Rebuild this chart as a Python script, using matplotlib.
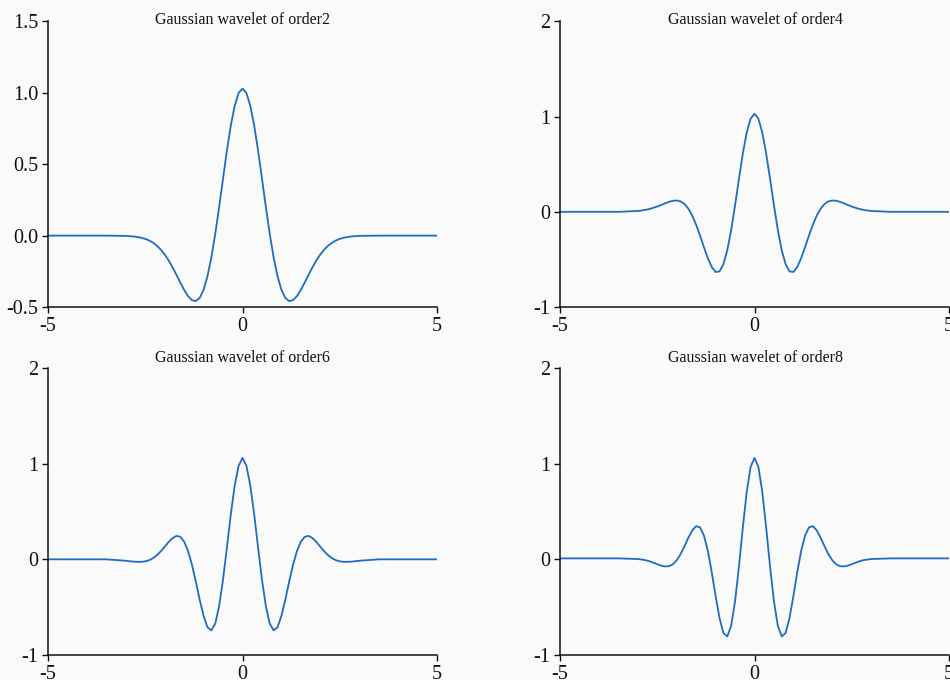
import matplotlib
matplotlib.use("Agg")
import matplotlib.pyplot as plt
from matplotlib.ticker import FixedLocator, FixedFormatter

plt.rcParams['font.family'] = ['Liberation Serif', 'DejaVu Serif']
plt.rcParams['axes.unicode_minus'] = False

# sample positions (x) shared by all four curves
x_vals = [-5, -3.5, -3.0, -2.9, -2.8, -2.7, -2.6, -2.5, -2.4, -2.3, -2.2, -2.1, -2.0,
          -1.9, -1.8, -1.7, -1.6, -1.5, -1.4, -1.3, -1.2, -1.1, -1.0, -0.9, -0.8,
          -0.7, -0.6, -0.5, -0.4, -0.3, -0.2, -0.1, 0.0, 0.1, 0.2, 0.3, 0.4, 0.5,
          0.6, 0.7, 0.8, 0.9, 1.0, 1.1, 1.2, 1.3, 1.4, 1.5, 1.6, 1.7, 1.8, 1.9,
          2.0, 2.1, 2.2, 2.3, 2.4, 2.5, 2.6, 2.7, 2.8, 2.9, 3.0, 3.5, 5]

order2 = [0, 0, -0.002, -0.004, -0.006, -0.010, -0.015, -0.023, -0.034, -0.050, -0.071,
          -0.098, -0.132, -0.173, -0.221, -0.274, -0.328, -0.380, -0.424, -0.452, -0.459,
          -0.436, -0.379, -0.284, -0.152, 0.013, 0.201, 0.401, 0.597, 0.772, 0.910, 0.999,
          1.030, 0.999, 0.910, 0.772, 0.597, 0.401, 0.201, 0.013, -0.152, -0.284, -0.379,
          -0.436, -0.459, -0.452, -0.424, -0.380, -0.328, -0.274, -0.221, -0.173, -0.132,
          -0.098, -0.071, -0.050, -0.034, -0.023, -0.015, -0.010, -0.006, -0.004, -0.002, 0, 0]

order4 = [0, 0, 0.009, 0.014, 0.021, 0.030, 0.042, 0.056, 0.072, 0.089, 0.105, 0.116,
          0.119, 0.110, 0.082, 0.033, -0.040, -0.136, -0.249, -0.371, -0.487, -0.580,
          -0.632, -0.626, -0.551, -0.404, -0.192, 0.067, 0.346, 0.613, 0.833, 0.979,
          1.030, 0.979, 0.833, 0.613, 0.346, 0.067, -0.192, -0.404, -0.551, -0.626,
          -0.632, -0.580, -0.487, -0.371, -0.249, -0.136, -0.040, 0.033, 0.082, 0.110,
          0.119, 0.116, 0.105, 0.089, 0.072, 0.056, 0.042, 0.030, 0.021, 0.014, 0.009, 0, 0]

order6 = [0, 0, -0.015, -0.020, -0.024, -0.026, -0.026, -0.021, -0.009, 0.012, 0.043,
          0.084, 0.132, 0.181, 0.222, 0.245, 0.236, 0.185, 0.087, -0.056, -0.233, -0.422,
          -0.592, -0.710, -0.743, -0.671, -0.488, -0.211, 0.125, 0.472, 0.773, 0.978,
          1.060, 0.978, 0.773, 0.472, 0.125, -0.211, -0.488, -0.671, -0.743, -0.710,
          -0.592, -0.422, -0.233, -0.056, 0.087, 0.185, 0.236, 0.245, 0.222, 0.181,
          0.132, 0.084, 0.043, 0.012, -0.009, -0.021, -0.026, -0.026, -0.024, -0.020, -0.015, 0, 0]

order8 = [0.01, 0.01, 0.003, -0.002, -0.009, -0.020, -0.035, -0.051, -0.066, -0.074, -0.072,
          -0.052, -0.010, 0.054, 0.137, 0.226, 0.303, 0.347, 0.334, 0.249, 0.089, -0.132,
          -0.383, -0.613, -0.770, -0.806, -0.695, -0.440, -0.076, 0.333, 0.705, 0.966,
          1.060, 0.966, 0.705, 0.333, -0.076, -0.440, -0.695, -0.806, -0.770, -0.613,
          -0.383, -0.132, 0.089, 0.249, 0.334, 0.347, 0.303, 0.226, 0.137, 0.054,
          -0.010, -0.052, -0.072, -0.074, -0.066, -0.051, -0.035, -0.020, -0.009, -0.002, 0.003, 0.01, 0.01]

titles = ["Gaussian wavelet of order2", "Gaussian wavelet of order4",
          "Gaussian wavelet of order6", "Gaussian wavelet of order8"]
x_ticks = [-5, 0, 5]
x_ticklabels = ["-5", "0", "5"]
y_ticks_first = [-0.5, 0.0, 0.5, 1.0, 1.5]
y_ticklabels_first = ["-0.5", "0.0", "0.5", "1.0", "1.5"]
y_ticks_other = [-1, 0, 1, 2]
y_ticklabels_other = ["-1", "0", "1", "2"]

W, H = 950, 680
fig = plt.figure(figsize=(W / 100, H / 100), dpi=100, facecolor='#fafafa')

# axes boxes in pixels: (left, top, right, bottom)
boxes = [(48, 21.5, 437, 307), (560, 21.5, 949, 307),
         (48, 368, 437, 655), (560, 368, 949, 655)]
title_pos = [(242.5, 24), (755, 24), (242.5, 362.5), (755, 362.5)]
series = [order2, order4, order6, order8]
line_color = '#1f6cc0'

for i, (box, ys) in enumerate(zip(boxes, series)):
    l, t, r, b = box
    ax = fig.add_axes([l / W, 1 - b / H, (r - l) / W, (b - t) / H])
    ax.set_facecolor('#fafafa')
    ax.plot(x_vals, ys, color=line_color, lw=1.3)
    ax.set_xlim(-5, 5)
    if i == 0:
        ax.set_ylim(-0.5, 1.5)
        ax.yaxis.set_major_locator(FixedLocator(y_ticks_first))
        ax.yaxis.set_major_formatter(FixedFormatter(y_ticklabels_first))
    else:
        ax.set_ylim(-1, 2)
        ax.yaxis.set_major_locator(FixedLocator(y_ticks_other))
        ax.yaxis.set_major_formatter(FixedFormatter(y_ticklabels_other))
    ax.xaxis.set_major_locator(FixedLocator(x_ticks))
    ax.xaxis.set_major_formatter(FixedFormatter(x_ticklabels))
    for s in ('top', 'right'):
        ax.spines[s].set_visible(False)
    for s in ('left', 'bottom'):
        ax.spines[s].set_linewidth(1.1)
        ax.spines[s].set_color('#111111')
    ax.tick_params(direction='out', length=4, width=1.0, labelsize=14.5,
                   pad=3, colors='#111111')
    tx, ty = title_pos[i]
    fig.text(tx / W, 1 - ty / H, titles[i], ha='center', va='baseline',
             fontsize=11.5, color='#111111')

fig.savefig("out.png", dpi=100, facecolor=fig.get_facecolor())
